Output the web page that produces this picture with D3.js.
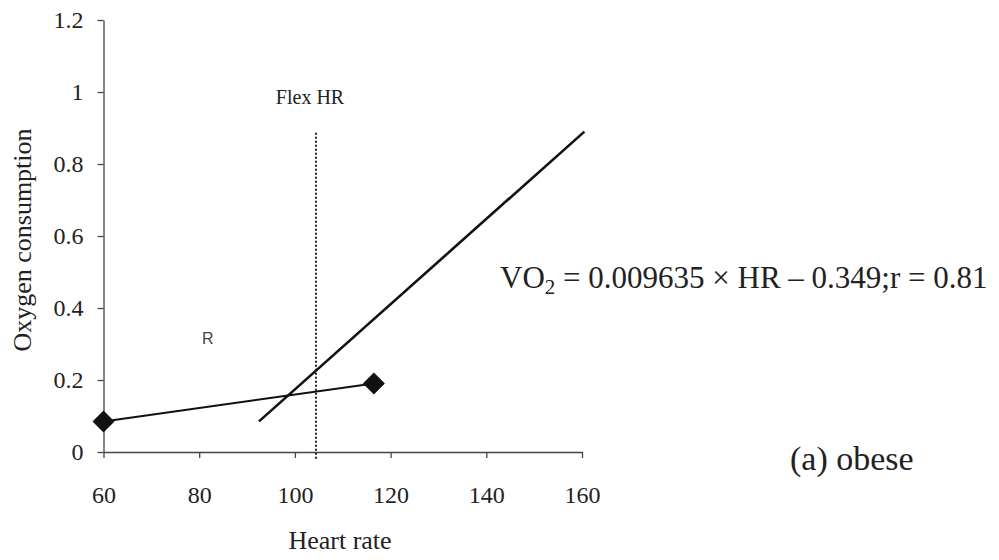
<!DOCTYPE html>
<html lang="en">
<head>
    <meta charset="UTF-8">
    <title>Oxygen consumption vs heart rate (obese)</title>
    <script src="https://d3js.org/d3.v7.min.js"></script>
    <style>
        body {
            margin: 0;
            background: #fff;
        }
        svg text {
            font-family: 'Liberation Serif', 'Times New Roman', serif;
            fill: #222;
        }
        .axis path,
        .axis line {
            stroke: #444;
            stroke-width: 1.3px;
        }
    </style>
</head>
<body>
    <div id="chart"></div>

    <script>
        // Data
        const xTicks = [60, 80, 100, 120, 140, 160];
        const yTicks = [0, 0.2, 0.4, 0.6, 0.8, 1, 1.2];

        // measured points (resting / exercise)
        const hrPoints = [60, 116.5];
        const vo2Points = [0.085, 0.19];

        // fitted regression line end points
        const fitHr = [92.5, 160.5];
        const fitVo2 = [0.085, 0.89];

        // Flex HR marker
        const flexHr = 104.4;
        const flexRange = [-0.02, 0.887];

        const width = 999, height = 560;
        const serif = "'Liberation Serif', 'Times New Roman', serif";

        const svg = d3.select("#chart")
            .append("svg")
            .attr("width", width)
            .attr("height", height);

        // Scales
        const xScale = d3.scaleLinear().domain([60, 160]).range([103.5, 582]);
        const yScale = d3.scaleLinear().domain([0, 1.2]).range([452, 20]);

        // X axis
        svg.append("g")
            .attr("class", "axis")
            .attr("transform", `translate(0,${yScale(0)})`)
            .call(d3.axisBottom(xScale).tickValues(xTicks).tickSize(6).tickSizeOuter(0).tickPadding(28))
            .attr("font-family", serif)
            .attr("font-size", 24)
            .call(g => g.selectAll("text").attr("fill", "#222"));

        // Y axis
        svg.append("g")
            .attr("class", "axis")
            .attr("transform", `translate(${xScale(60)},0)`)
            .call(d3.axisLeft(yScale).tickValues(yTicks).tickSize(6).tickSizeOuter(0).tickPadding(14)
                .tickFormat(d => d3.format("~g")(d)))
            .attr("font-family", serif)
            .attr("font-size", 24)
            .call(g => g.selectAll("text").attr("fill", "#222"));

        // Axis titles
        svg.append("text")
            .attr("x", 340)
            .attr("y", 549)
            .attr("text-anchor", "middle")
            .style("font-size", "26px")
            .text("Heart rate");

        svg.append("text")
            .attr("transform", "translate(31,240) rotate(-90)")
            .attr("text-anchor", "middle")
            .style("font-size", "26px")
            .text("Oxygen consumption");

        // Flex HR dotted line
        svg.append("line")
            .attr("x1", xScale(flexHr))
            .attr("x2", xScale(flexHr))
            .attr("y1", yScale(flexRange[1]))
            .attr("y2", yScale(flexRange[0]))
            .attr("stroke", "#222")
            .attr("stroke-width", 2)
            .attr("stroke-dasharray", "2,2");

        svg.append("text")
            .attr("x", 310)
            .attr("y", 104)
            .attr("text-anchor", "middle")
            .style("font-size", "20px")
            .text("Flex HR");

        // Regression line
        const fitData = fitHr.map((h, i) => ({hr: h, vo2: fitVo2[i]}));
        svg.append("path")
            .datum(fitData)
            .attr("fill", "none")
            .attr("stroke", "#111")
            .attr("stroke-width", 2.6)
            .attr("d", d3.line().x(d => xScale(d.hr)).y(d => yScale(d.vo2)));

        // Measured points joined by a line
        const pts = hrPoints.map((h, i) => ({hr: h, vo2: vo2Points[i]}));
        svg.append("path")
            .datum(pts)
            .attr("fill", "none")
            .attr("stroke", "#111")
            .attr("stroke-width", 2)
            .attr("d", d3.line().x(d => xScale(d.hr)).y(d => yScale(d.vo2)));

        svg.selectAll(".pt")
            .data(pts)
            .enter()
            .append("path")
            .attr("class", "pt")
            .attr("fill", "#111")
            .attr("transform", d => `translate(${xScale(d.hr)},${yScale(d.vo2)})`)
            .attr("d", "M0,-11L11,0L0,11L-11,0Z");

        // Annotations
        svg.append("text")
            .attr("x", 202)
            .attr("y", 344)
            .style("font-family", "'Liberation Sans', Arial, sans-serif")
            .style("font-size", "16px")
            .style("fill", "#444")
            .text("R");

        const eq = svg.append("text")
            .attr("x", 500)
            .attr("y", 288)
            .style("font-size", "31px");
        eq.append("tspan").text("VO");
        eq.append("tspan").attr("dy", 6).style("font-size", "21px").text("2");
        eq.append("tspan").attr("dy", -6).text(" = 0.009635 \u00d7 HR \u2013 0.349;r = 0.81");

        svg.append("text")
            .attr("x", 790)
            .attr("y", 470)
            .style("font-size", "34px")
            .text("(a) obese");
    </script>
</body>
</html>
